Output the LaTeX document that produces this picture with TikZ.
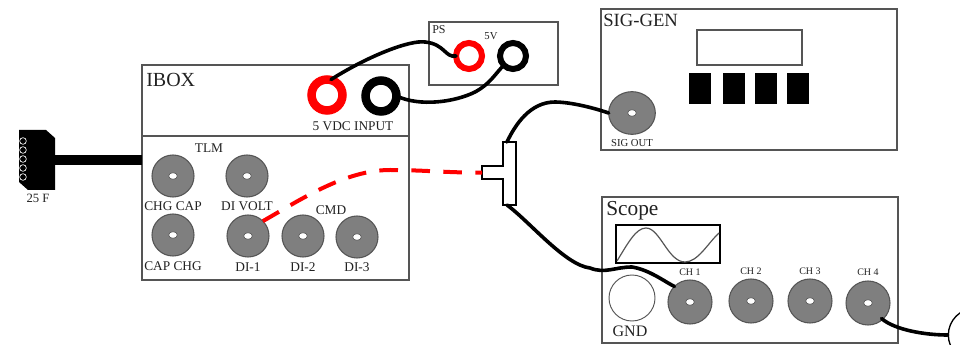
\documentclass[tikz,border=0pt]{standalone}
\usepackage{fontspec}
\setmainfont{Liberation Serif}
\definecolor{txt}{HTML}{222222}
\definecolor{edge}{HTML}{555555}
\definecolor{jack}{HTML}{7F7F7F}
\tikzset{
  x=0.75pt,y=-0.75pt,
  panel/.style={draw=edge,line width=0.9pt,fill=white,inner sep=0pt,outer sep=0pt,anchor=north west},
  ring/.style={circle,draw=#1,line width=6.4pt,fill=white,inner sep=0pt,outer sep=0pt,minimum size=23.2pt},
  smallring/.style={circle,draw=#1,line width=4.5pt,fill=white,inner sep=0pt,outer sep=0pt,minimum size=19.5pt},
  jackc/.style={circle,draw=edge,line width=0.8pt,fill=jack,inner sep=0pt,outer sep=0pt,minimum size=31.5pt},
  hole/.style={ellipse,draw=edge,line width=0.5pt,fill=white,inner sep=0pt,minimum width=6.5pt,minimum height=5pt},
  lab/.style={text=txt,inner sep=0pt,font=\fontsize{#1}{#1}\selectfont},
  lab/.default=10pt,
  wire/.style={draw=black,line width=2.7pt,line cap=round},
  redwire/.style={draw=red,line width=3pt,dash pattern=on 14pt off 10pt},
  btn/.style={fill=black,draw=black,line width=0.4pt,inner sep=0pt,minimum width=15.5pt,minimum height=22.5pt,anchor=north west},
  pin/.style={circle,draw=white,line width=0.5pt,inner sep=0pt,minimum size=5pt,fill=black},
}
\usetikzlibrary{shapes.geometric}
\begin{document}
\begin{tikzpicture}
\useasboundingbox (0,0) rectangle (960,345);
\clip (0,0) rectangle (960,345);
% panels
\node[panel,minimum width=200.25pt,minimum height=161.25pt] (ibox) at (142,65) {};
\coordinate (divl) at (142,136);
\coordinate (divr) at (409,136);
\draw[draw=edge,line width=0.9pt] (divl) -- (divr);
\node[panel,minimum width=96.75pt,minimum height=47.25pt] (ps) at (429,22) {};
\node[panel,minimum width=222pt,minimum height=105.75pt] (siggen) at (601,9) {};
\node[panel,minimum width=222pt,minimum height=109.5pt] (scope) at (602,197) {};
% titles
\node[lab=15pt,anchor=west] (t1) at (146,80) {IBOX};
\node[lab=9pt,anchor=west] (t2) at (432,30) {PS};
\node[lab=8pt] (t3) at (491,36) {5V};
\node[lab=14pt,anchor=west] (t4) at (603,20) {SIG-GEN};
\node[lab=16pt,anchor=west] (t5) at (606,211) {Scope};
% 25 F connector
\coordinate (plug) at (55,160);
\coordinate (plugend) at (142,160);
\draw[black,line width=8pt] (plug) -- (plugend);
\fill[black] (19,130) -- (46,130) -- (55,138) -- (55,190) -- (28,190) -- (19,182) -- cycle;
\foreach \y in {141,150,159,168,177} \node[pin] (p\y) at (23,\y) {};
\node[lab=9.5pt] (l25) at (38,198) {25 F};
% ibox jacks
\node[ring=red] (vp) at (327,95) {};
\node[ring=black] (vn) at (381,96) {};
\node[lab=10pt] (l5) at (353,126) {5 VDC INPUT};
\node[lab=10pt] (ltlm) at (209,148) {TLM};
\node[lab=10pt] (lcmd) at (331,210) {CMD};
\foreach \n/\x/\y/\t/\ly in {chgcap/173/176/CHG CAP/206, divolt/247/176/DI VOLT/206, capchg/173/235/CAP CHG/266, dia/248/236/DI-1/267, dib/303/236/DI-2/267, dic/357/237/DI-3/267}{
  \node[jackc] (\n) at (\x,\y) {};
  \node[hole] (\n h) at (\x,\y) {};
  \node[lab=10pt] (\n l) at (\x,\ly) {\t};
}
% PS
\node[smallring=red] (pp) at (469,56) {};
\node[smallring=black] (pn) at (513,56) {};
% sig-gen
\node[panel,minimum width=78.75pt,minimum height=26.25pt] (disp) at (697,30) {};
\node[btn] (b1) at (689,73) {};
\node[btn] (b2) at (723,73) {};
\node[btn] (b3) at (755,73) {};
\node[btn] (b4) at (787,73) {};
\node[ellipse,draw=edge,line width=0.8pt,fill=jack,inner sep=0pt,outer sep=0pt,minimum width=35pt,minimum height=32pt] (sout) at (632,113) {};
\node[hole] (south) at (632,113) {};
\node[lab=8pt] (soutl) at (632,143) {SIG OUT};
% T adapter
\node[panel,draw=black,minimum width=9.75pt,minimum height=47.25pt] (tee) at (503,142) {};
\node[panel,draw=black,minimum width=16pt,minimum height=9.75pt] (stub) at (482,166) {};
\fill[white] (502,167) rectangle (504.5,178);
% scope
\node[panel,draw=black,minimum width=78pt,minimum height=28.5pt] (screen) at (616,225) {};
\coordinate (s0) at (617,261);
\coordinate (s1) at (719,233);
\draw[draw=edge,line width=0.9pt] (s0) .. controls (628,243) and (636,228) .. (646,228) .. controls (660,228) and (668,262) .. (685,262) .. controls (698,262) and (708,243) .. (s1);
\node[circle,draw=edge,line width=0.7pt,fill=white,inner sep=0pt,outer sep=0pt,minimum size=34.5pt] (gnd) at (632,298) {};
\node[lab=12pt] (gndl) at (630,331) {GND};
\foreach \n/\x/\y/\t/\ly in {cha/690/302/CH 1/272, chb/751/301/CH 2/271, chc/810/301/CH 3/271, chd/868/303/CH 4/272}{
  \node[jackc,minimum size=33pt] (\n) at (\x,\y) {};
  \node[hole] (\n h) at (\x,\y) {};
  \node[lab=7.5pt] (\n l) at (\x,\ly) {\t};
}
% load
\node[circle,draw=black,line width=1pt,fill=white,inner sep=0pt,minimum size=40pt] (load) at (975,335) {};
% wires
\draw[wire] (vp.north) ++(4,0) .. controls (370,55) and (410,40) .. (425,42) .. controls (445,44) and (445,58) .. (pp.west);
\draw[wire] (vn.east) .. controls (420,107) and (455,102) .. (475,92) .. controls (490,84) and (495,74) .. (pn.south west);
\draw[wire] (sout.west) .. controls (585,105) and (565,102) .. (555,102) .. controls (530,102) and (515,125) .. (507,142);
\draw[wire] (tee.south west) ++(4,0) .. controls (530,222) and (565,265) .. (590,268) .. controls (605,274) and (615,267) .. (632,267) .. controls (650,270) and (665,282) .. (cha.north west);
\draw[wire] (chd.south east) ++(-2,0) .. controls (895,330) and (925,335) .. (load.west);
\draw[redwire] (dia.north east) .. controls (300,200) and (345,170) .. (390,170) .. controls (425,170) and (450,173) .. (stub.west);
\end{tikzpicture}
\end{document}
